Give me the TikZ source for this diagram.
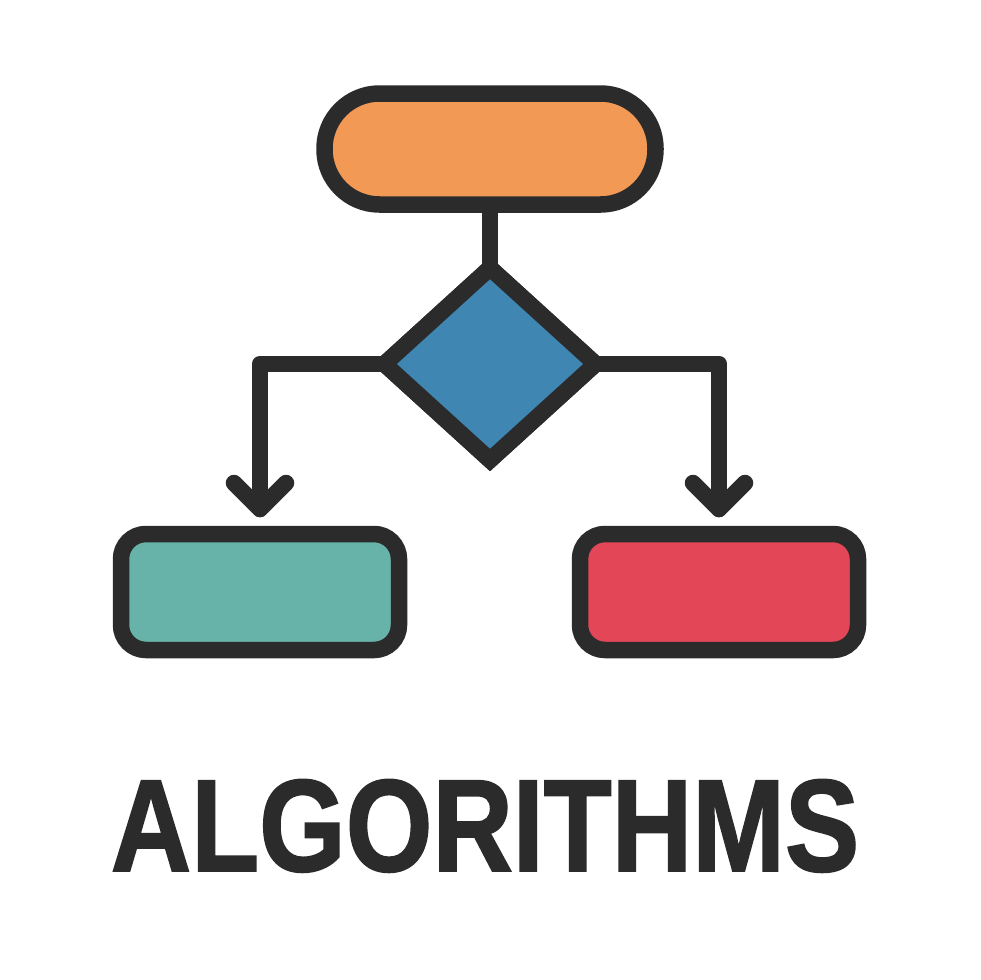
\documentclass[tikz,border=0pt]{standalone}
\usepackage{fontspec}
\setmainfont{Liberation Sans}
\newfontfamily\titlefont{Liberation Sans}[BoldFeatures={FakeBold=1.5}]
\usetikzlibrary{shapes.geometric}
\definecolor{ink}{HTML}{2B2B2B}
\definecolor{orangefill}{HTML}{F29A55}
\definecolor{bluefill}{HTML}{3F86B3}
\definecolor{tealfill}{HTML}{67B3A9}
\definecolor{redfill}{HTML}{E24657}
\tikzset{
  outline/.style={draw=ink, line width=16.5pt, inner sep=0pt, outer sep=0pt},
  pill/.style={outline, rectangle, rounded corners=55pt, minimum width=331pt, minimum height=111pt},
  box/.style={outline, rectangle, rounded corners=25pt, minimum width=278pt, minimum height=116pt},
  decision/.style={outline, diamond, line join=miter, minimum width=211pt, minimum height=192pt},
  conn/.style={draw=ink, line width=16.5pt, line cap=round, line join=round},
}
\begin{document}
\begin{tikzpicture}[x=1pt,y=-1pt]
\useasboundingbox[fill=white] (0,0) rectangle (980,980);
\coordinate (ltip) at (260,509);
\coordinate (rtip) at (719,509);
\node[decision, fill=bluefill] (dia) at (490,364) {};
\node[pill, fill=orangefill] (start) at (490,149) {};
\draw[draw=ink, line width=16.5pt] (start.south) -- (dia.north);
\draw[conn] (dia.west) -| (ltip);
\draw[conn] (dia.east) -| (rtip);
\draw[conn] (ltip) ++(-26,-26) -- (ltip) -- ++(26,-26);
\draw[conn] (rtip) ++(-26,-26) -- (rtip) -- ++(26,-26);
\node[decision, fill=bluefill] at (490,364) {};
\node[box, fill=tealfill] (left) at (260,592) {};
\node[box, fill=redfill] (right) at (719,592) {};
\node[text=ink, anchor=base, inner sep=0pt, xscale=0.85, font=\titlefont\fontsize{131}{140}\selectfont\bfseries] (title) at (485,871) {ALGORITHMS};
\end{tikzpicture}
\end{document}
